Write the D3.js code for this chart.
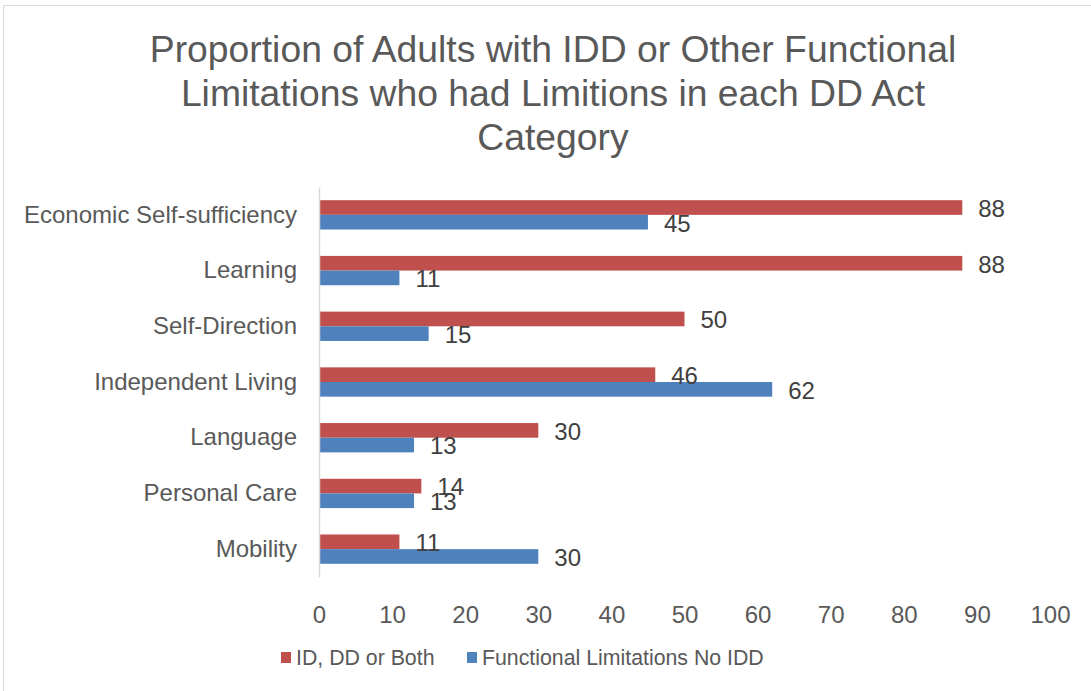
<!DOCTYPE html>
<html>
<head>
<meta charset="utf-8">
<script src="https://cdnjs.cloudflare.com/ajax/libs/d3/7.8.5/d3.min.js"></script>
<style>
  body { margin: 0; background: #fff; }
  svg { font-family: "Liberation Sans", Arial, sans-serif; }
</style>
</head>
<body>
<div class="chart"></div>
<script>
// chart data
var categories = ["Economic Self-sufficiency", "Learning", "Self-Direction", "Independent Living", "Language", "Personal Care", "Mobility"];
var seriesNames = ["ID, DD or Both", "Functional Limitations No IDD"];
var idddValues = [88, 88, 50, 46, 30, 14, 11];
var noIddValues = [45, 11, 15, 62, 13, 13, 30];
var tickValues = [0, 10, 20, 30, 40, 50, 60, 70, 80, 90, 100];
var titleLines = ["Proportion of Adults with IDD or Other Functional", "Limitations who had Limitions in each DD Act", "Category"];
var colors = ["#C0504D", "#4F81BD"];

var width = 1091, height = 691;
var svg = d3.select(".chart").append("svg")
  .attr("width", width)
  .attr("height", height);

// chart border (only top/left visible in frame)
svg.append("rect")
  .attr("x", 3.5).attr("y", 5.5)
  .attr("width", 1100).attr("height", 700)
  .attr("fill", "none")
  .attr("stroke", "#d9d9d9")
  .attr("stroke-width", 1);

// title
svg.append("text")
  .attr("text-anchor", "middle")
  .attr("font-size", "37.3px")
  .attr("fill", "#595959")
  .selectAll("tspan")
  .data(titleLines)
  .enter().append("tspan")
  .attr("x", 553)
  .attr("y", function(d, i) { return 62 + i * 44; })
  .text(function(d) { return d; });

var x = d3.scaleLinear().domain([0, 100]).range([319, 1050]);
var y0 = d3.scaleBand().domain(categories).range([187, 577]).padding(0);
var y1 = d3.scaleBand().domain(seriesNames).range([0, y0.bandwidth()]).paddingInner(0).paddingOuter(0.9);

var rows = categories.map(function(c, i) {
  return { cat: c, vals: [idddValues[i], noIddValues[i]] };
});

var groups = svg.selectAll("g.cat")
  .data(rows)
  .enter().append("g")
  .attr("class", "cat")
  .attr("transform", function(d) { return "translate(0," + y0(d.cat) + ")"; });

groups.selectAll("rect")
  .data(function(d) { return d.vals.map(function(v, k) { return { s: seriesNames[k], v: v, k: k }; }); })
  .enter().append("rect")
  .attr("x", x(0))
  .attr("y", function(d) { return y1(d.s); })
  .attr("width", function(d) { return x(d.v) - x(0); })
  .attr("height", y1.bandwidth())
  .attr("fill", function(d) { return colors[d.k]; });

groups.selectAll("text.val")
  .data(function(d) { return d.vals.map(function(v, k) { return { s: seriesNames[k], v: v, k: k }; }); })
  .enter().append("text")
  .attr("class", "val")
  .attr("x", function(d) { return x(d.v) + 16; })
  .attr("y", function(d) { return y1(d.s) + y1.bandwidth() / 2 + 1; })
  .attr("dy", "0.35em")
  .attr("font-size", "24px")
  .attr("fill", "#404040")
  .text(function(d) { return d.v; });

// category axis
var yAxis = svg.append("g")
  .attr("transform", "translate(" + x(0) + ",0)")
  .call(d3.axisLeft(y0).tickSize(0).tickPadding(22));
yAxis.select(".domain").attr("stroke", "#d9d9d9").attr("stroke-width", 1.5);
yAxis.selectAll("text")
  .attr("font-size", "24px")
  .attr("font-family", "Liberation Sans, Arial, sans-serif")
  .attr("fill", "#595959");

// value axis (labels only)
var xAxis = svg.append("g")
  .attr("transform", "translate(0,577)")
  .call(d3.axisBottom(x).tickValues(tickValues).tickSize(0).tickPadding(29));
xAxis.select(".domain").remove();
xAxis.selectAll("text")
  .attr("font-size", "24px")
  .attr("font-family", "Liberation Sans, Arial, sans-serif")
  .attr("fill", "#595959");

// legend
var legendX = [281, 467];
var legend = svg.selectAll("g.leg")
  .data(seriesNames)
  .enter().append("g")
  .attr("class", "leg")
  .attr("transform", function(d, i) { return "translate(" + legendX[i] + ",652)"; });
legend.append("rect")
  .attr("width", 10).attr("height", 11)
  .attr("fill", function(d, i) { return colors[i]; });
legend.append("text")
  .attr("x", 15)
  .attr("y", 13)
  .attr("font-size", "21.3px")
  .attr("fill", "#595959")
  .text(function(d) { return d; });
</script>
</body>
</html>
